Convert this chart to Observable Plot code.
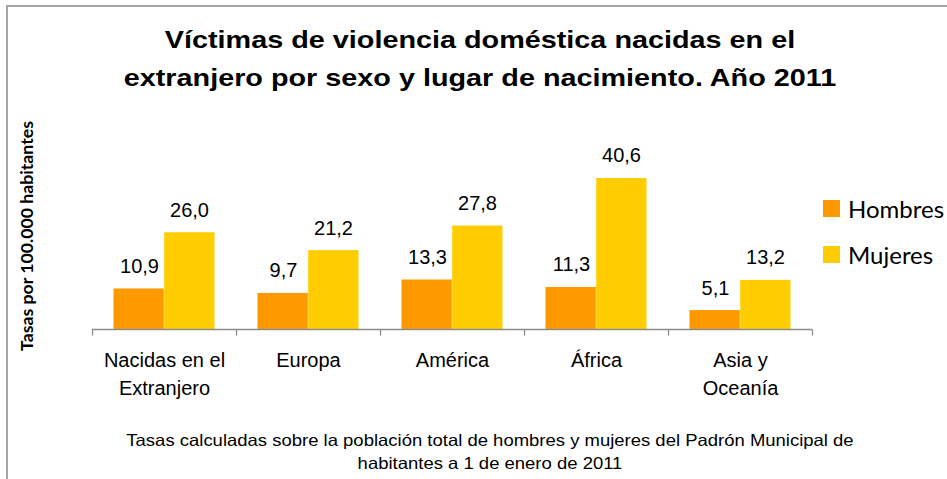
<!DOCTYPE html>
<html>
<head>
<meta charset="utf-8">
<script src="https://cdn.jsdelivr.net/npm/d3@7"></script>
<script src="https://cdn.jsdelivr.net/npm/@observablehq/plot@0.6"></script>
<style>
  html, body { margin: 0; padding: 0; background: #fff; }
  #wrap { position: relative; width: 947px; height: 479px; overflow: hidden; background: #fff; }
  #frame { position: absolute; left: 6px; top: 5px; width: 960px; height: 500px;
           border-top: 2px solid #a6a6a6; border-left: 2px solid #a6a6a6; }
  #title { position: absolute; left: 0; top: 21px; width: 960px; text-align: center;
           font-family: "Liberation Sans", Arial, sans-serif; font-weight: bold; font-size: 24.5px;
           line-height: 38px; color: #000; transform: scaleX(1.175); transform-origin: 480px 0; }
  #ylabel { position: absolute; left: 26px; top: 236px; white-space: nowrap;
            font-family: Lato, "Open Sans", sans-serif; font-weight: bold; font-size: 17.7px; color: #000;
            transform: translate(-50%, -50%) rotate(-90deg); }
  #chart { position: absolute; left: 0; top: 110px; }
  #legend { position: absolute; left: 823px; top: 185px; font-family: Lato, "Open Sans", sans-serif;
            font-size: 24px; color: #000; }
  #legend .item { position: relative; height: 46px; display: flex; align-items: center; }
  #legend .sw { width: 17px; height: 17px; margin-right: 8px; }
  #caption { position: absolute; left: 0; top: 429px; width: 980px; text-align: center;
             font-family: "Liberation Sans", Arial, sans-serif; font-size: 16.5px; line-height: 23px; color: #000;
             transform: scaleX(1.12); transform-origin: 490px 0; }
</style>
</head>
<body>
<div id="wrap">
  <div id="frame"></div>
  <div id="title">Víctimas de violencia doméstica nacidas en el<br>extranjero por sexo y lugar de nacimiento. Año 2011</div>
  <div id="ylabel">Tasas por 100.000 habitantes</div>
  <div id="chart"></div>
  <div id="legend"></div>
  <div id="caption">Tasas calculadas sobre la población total de hombres y mujeres del Padrón Municipal de<br>habitantes a 1 de enero de 2011</div>
</div>
<script>
const categories = ["Nacidas en el\nExtranjero", "Europa", "América", "África", "Asia y\nOceanía"];
const series = ["Hombres", "Mujeres"];
const hombres = [10.9, 9.7, 13.3, 11.3, 5.1];
const mujeres = [26.0, 21.2, 27.8, 40.6, 13.2];
const colors = ["#FF9900", "#FFCC00"];

const fmt = v => v.toFixed(1).replace(".", ",");
const dataH = categories.map((c, i) => ({cat: c, value: hombres[i]}));
const dataM = categories.map((c, i) => ({cat: c, value: mujeres[i]}));

function boundaryAxis(index, scales, values, dimensions) {
  const x = scales.x, y = scales.y;
  const dom = x.domain();
  const bw = typeof x.bandwidth === "function" ? x.bandwidth()
    : (dimensions.width - dimensions.marginLeft - dimensions.marginRight) / dom.length;
  const y0 = Math.round(y(0)) + 0.5;
  const xs = dom.map(d => x(d)).concat([x(dom[dom.length - 1]) + bw]);
  const g = d3.create("svg:g").attr("stroke", "#8c8c8c").attr("stroke-width", 1.3).attr("fill", "none");
  g.append("line").attr("x1", xs[0]).attr("x2", xs[xs.length - 1]).attr("y1", y0).attr("y2", y0);
  for (const xv of xs) {
    g.append("line").attr("x1", Math.round(xv) + 0.5).attr("x2", Math.round(xv) + 0.5).attr("y1", y0).attr("y2", y0 + 6);
  }
  return g.node();
}

const plot = Plot.plot({
  width: 947,
  height: 300,
  marginLeft: 91,
  marginRight: 135,
  marginTop: 51.6,
  marginBottom: 81,
  x: {domain: categories, padding: 0, label: null},
  y: {domain: [0, 45], axis: null},
  style: {fontFamily: "'Liberation Sans', Arial, sans-serif", color: "#000", background: "transparent"},
  marks: [
    Plot.barY(dataH, {x: "cat", y: "value", fill: colors[0], insetLeft: 21.5, insetRight: 72.2}),
    Plot.barY(dataM, {x: "cat", y: "value", fill: colors[1], insetLeft: 72.2, insetRight: 21.5}),
    Plot.text(dataH, {x: "cat", y: "value", text: d => fmt(d.value), dx: -25, dy: -16,
      lineAnchor: "bottom", fontSize: 20, fill: "#000"}),
    Plot.text(dataM, {x: "cat", y: "value", text: d => fmt(d.value), dx: 25, dy: -16,
      lineAnchor: "bottom", fontSize: 20, fill: "#000"}),
    boundaryAxis,
    Plot.axisX({tickSize: 0, tickPadding: 18, fontSize: 20, lineHeight: 1.4, label: null})
  ]
});
document.getElementById("chart").appendChild(plot);

const legend = d3.select("#legend");
series.forEach((s, i) => {
  const it = legend.append("div").attr("class", "item");
  it.append("div").attr("class", "sw").style("background", colors[i]);
  it.append("span").text(s);
});
</script>
</body>
</html>
